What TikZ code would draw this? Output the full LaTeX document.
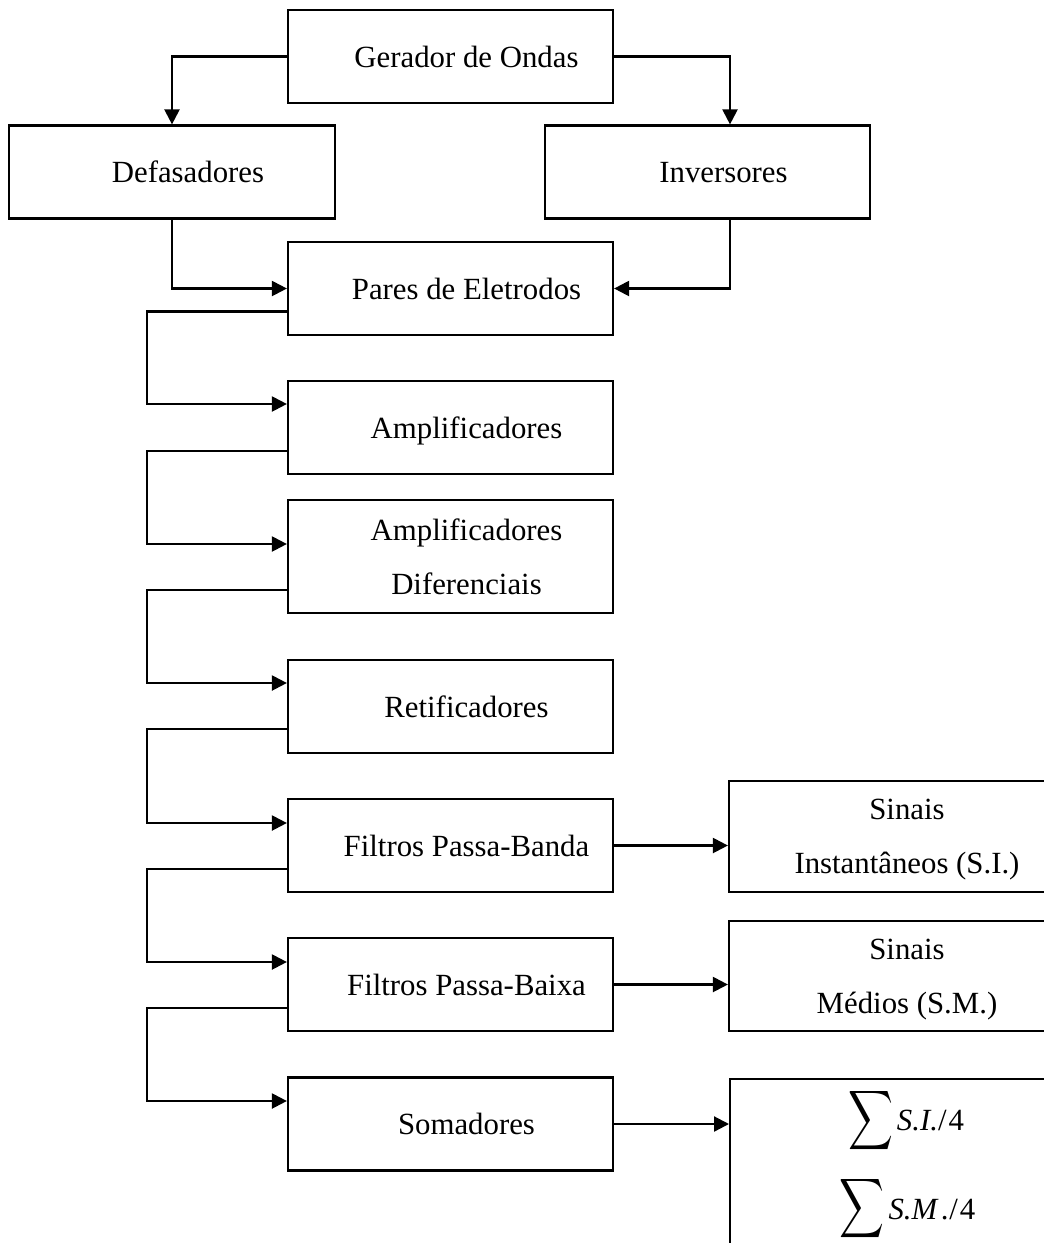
\documentclass[tikz,border=0pt]{standalone}
\usepackage{amsmath}
\usepackage{graphicx}
\usepackage{fontspec}
\setmainfont{Liberation Serif}
\usetikzlibrary{arrows.meta,calc}
\newcommand{\lpad}{\hspace*{16pt}}
\newcommand{\bigsum}{{\fontsize{21}{21}\selectfont\scalebox{0.75}[1]{$\displaystyle\sum$}}}
\begin{document}
\begin{tikzpicture}[x=0.5pt,y=-0.5pt,
  box/.style={draw,line width=1.1pt,inner sep=0pt,font=\fontsize{15.4}{27}\selectfont,
    minimum width=162.5pt,minimum height=46.5pt},
  one/.style={box,text height=10.5pt,text depth=0pt},
  two/.style={box,align=center},
  sumtext/.style={inner sep=0pt,font=\fontsize{15.4}{18}\selectfont},
  conn/.style={line width=1.1pt,-{Triangle[length=7.5pt,width=7.5pt]}}]
\useasboundingbox (0,0) rectangle (1044,1243);
\begin{scope}
\clip (0,0) rectangle (1044,1243);
% boxes
\node[one] (ger) at (450.5,56.5) {\lpad Gerador de Ondas};
\node[one,minimum width=163pt] (def) at (172,172) {\lpad Defasadores};
\node[one] (inv) at (707.5,172) {\lpad Inversores};
\node[one] (par) at (450.5,288.5) {\lpad Pares de Eletrodos};
\node[one] (amp) at (450.5,427.5) {\lpad Amplificadores};
\node[two,minimum height=56.5pt] (dif) at (450.5,556.5) {\lpad Amplificadores\\\lpad Diferenciais};
\node[one] (ret) at (450.5,706.5) {\lpad Retificadores};
\node[one] (fbd) at (450.5,845.5) {\lpad Filtros Passa-Banda};
\node[one] (fbx) at (450.5,984.5) {\lpad Filtros Passa-Baixa};
\node[one] (som) at (450.5,1124) {\lpad Somadores};
\node[two,minimum width=178pt,minimum height=55.5pt] (si) at (907,836.5) {Sinais\\Instantâneos \smash{(S.I.)}};
\node[two,minimum width=178pt,minimum height=55pt] (sm) at (907,976) {Sinais\\Médios \smash{(S.M.)}};
\node[box,minimum width=178pt,minimum height=125pt,anchor=north west] (sum) at (729,1078) {};
\node[sumtext] (sumi) at (906,1120.5) {\bigsum\kern2pt\textit{S.I.}/\kern1pt4};
\node[sumtext] (summ) at (907.5,1209) {\bigsum\kern2pt\textit{S.M}\kern1.5pt\textit{.}/\kern1pt4};
% connector end points
\coordinate (invin) at ($(inv.north)+(22.5,0)$);
\coordinate (invout) at ($(inv.south)+(22.5,0)$);
% connectors
\draw[conn] (ger.west) -| (def.north);
\draw[conn] (ger.east) -| (invin);
\draw[conn] (def.south) |- (par.west);
\draw[conn] (invout) |- (par.east);
\draw[conn] ($(par.west)+(0,23)$) -- ++(-140,0) |- ($(amp.west)+(0,-23.5)$);
\draw[conn] ($(amp.west)+(0,23.5)$) -- ++(-140,0) |- ($(dif.west)+(0,-12.5)$);
\draw[conn] ($(dif.west)+(0,33.5)$) -- ++(-140,0) |- ($(ret.west)+(0,-23.5)$);
\draw[conn] ($(ret.west)+(0,22.5)$) -- ++(-140,0) |- ($(fbd.west)+(0,-22.5)$);
\draw[conn] ($(fbd.west)+(0,23.5)$) -- ++(-140,0) |- ($(fbx.west)+(0,-22.5)$);
\draw[conn] ($(fbx.west)+(0,23.5)$) -- ++(-140,0) |- ($(som.west)+(0,-23)$);
\draw[conn] (fbd.east) -- (fbd.east -| si.west);
\draw[conn] (fbx.east) -- (fbx.east -| sm.west);
\draw[conn] (som.east) -- (som.east -| sum.west);
\end{scope}
\end{tikzpicture}
\end{document}
